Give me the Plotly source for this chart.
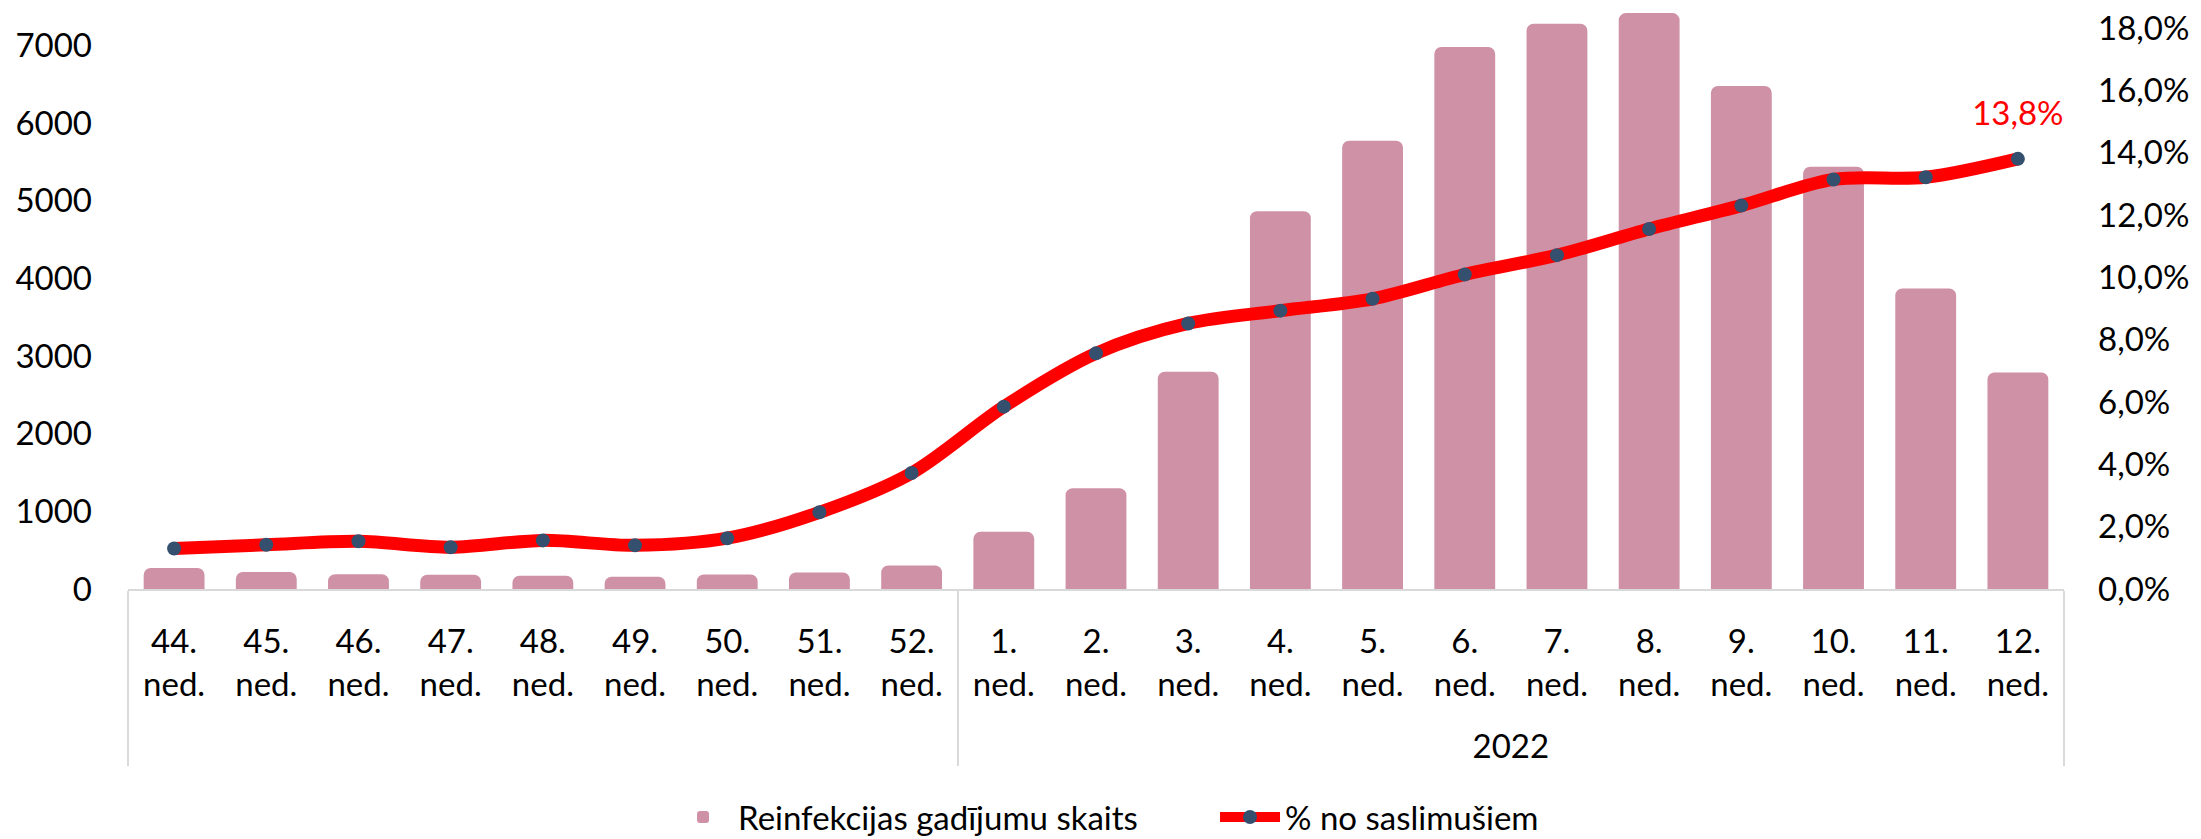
import plotly.graph_objects as go

# kategorijas
gads = [" "] * 9 + ["<br>2022"] * 12
nedelas = ["44.", "45.", "46.", "47.", "48.", "49.", "50.", "51.", "52.",
           "1.", "2.", "3.", "4.", "5.", "6.", "7.", "8.", "9.", "10.", "11.", "12."]
ned_labels = [n + "<br>ned." for n in nedelas]

# Reinfekcijas gadījumu skaits
reinfekcijas = [270, 220, 190, 185, 172, 158, 188, 213, 304,
                736, 1299, 2800, 4866, 5774, 6981, 7281, 7418, 6479, 5439, 3871, 2790]

# % no saslimušiem
procenti = [1.30, 1.42, 1.53, 1.34, 1.56, 1.40, 1.63, 2.46, 3.72,
            5.85, 7.56, 8.52, 8.93, 9.31, 10.09, 10.71, 11.55, 12.30, 13.14, 13.21, 13.80]

pedeja_uzraksts = ["" for _ in procenti[:-1]] + ["13,8%"]

FONT = "Lato, 'Open Sans', sans-serif"
x = [gads, ned_labels]

fig = go.Figure()

# stabiņi
fig.add_trace(go.Bar(x=x, y=reinfekcijas, name="Reinfekcijas gadījumu skaits",
                     marker=dict(color="#CF91A6", cornerradius=7, line=dict(width=0))))

# līnija ar punktiem
fig.add_trace(go.Scatter(x=x, y=procenti, name="% no saslimušiem", yaxis="y2",
                         mode="lines+markers",
                         line=dict(color="#FF0000", width=13, shape="spline", smoothing=0.9),
                         marker=dict(color="#34506E", size=14)))

# datu uzraksts pēdējam punktam
fig.add_trace(go.Scatter(x=x, y=procenti, yaxis="y2", mode="markers+text",
                         text=pedeja_uzraksts, textposition="top center",
                         textfont=dict(color="#FF0000", size=33, family=FONT),
                         marker=dict(size=40, color="rgba(0,0,0,0)"),
                         showlegend=False, hoverinfo="skip"))

# lapas body atkāpe ir 8px, tāpēc izmērs mazāks
fig.update_layout(
    width=2193, height=831,
    paper_bgcolor="white", plot_bgcolor="white",
    font=dict(family=FONT, size=33, color="#000000"),
    separators=",.",
    margin=dict(l=120, r=137, t=0, b=250),
    bargap=0.34,
    showlegend=True,
    legend=dict(orientation="h", xref="container", yref="container",
                x=0.5504, xanchor="center", y=0.0265, yanchor="middle",
                font=dict(size=33), itemwidth=60, entrywidth=472, tracegroupgap=0),
    xaxis=dict(type="multicategory", range=[-0.5, 20.5], showline=True,
               linecolor="#D9D9D9", linewidth=2,
               showgrid=False, ticks="", showdividers=True, dividercolor="#D9D9D9",
               dividerwidth=2, automargin=False, ticklabelstandoff=22,
               tickfont=dict(size=33)),
    yaxis=dict(range=[0, 7484], dtick=1000, tickformat="d", showgrid=False,
               zeroline=False, showline=False, ticklabelstandoff=35, automargin=False,
               ticklabeloverflow="allow"),
    yaxis2=dict(range=[0, 18.64], dtick=2, tickformat=".1f", ticksuffix="%",
                overlaying="y", side="right", showgrid=False, zeroline=False,
                showline=False, ticklabelstandoff=33, automargin=False,
                ticklabeloverflow="allow"),
)

fig.write_html("out.html")
